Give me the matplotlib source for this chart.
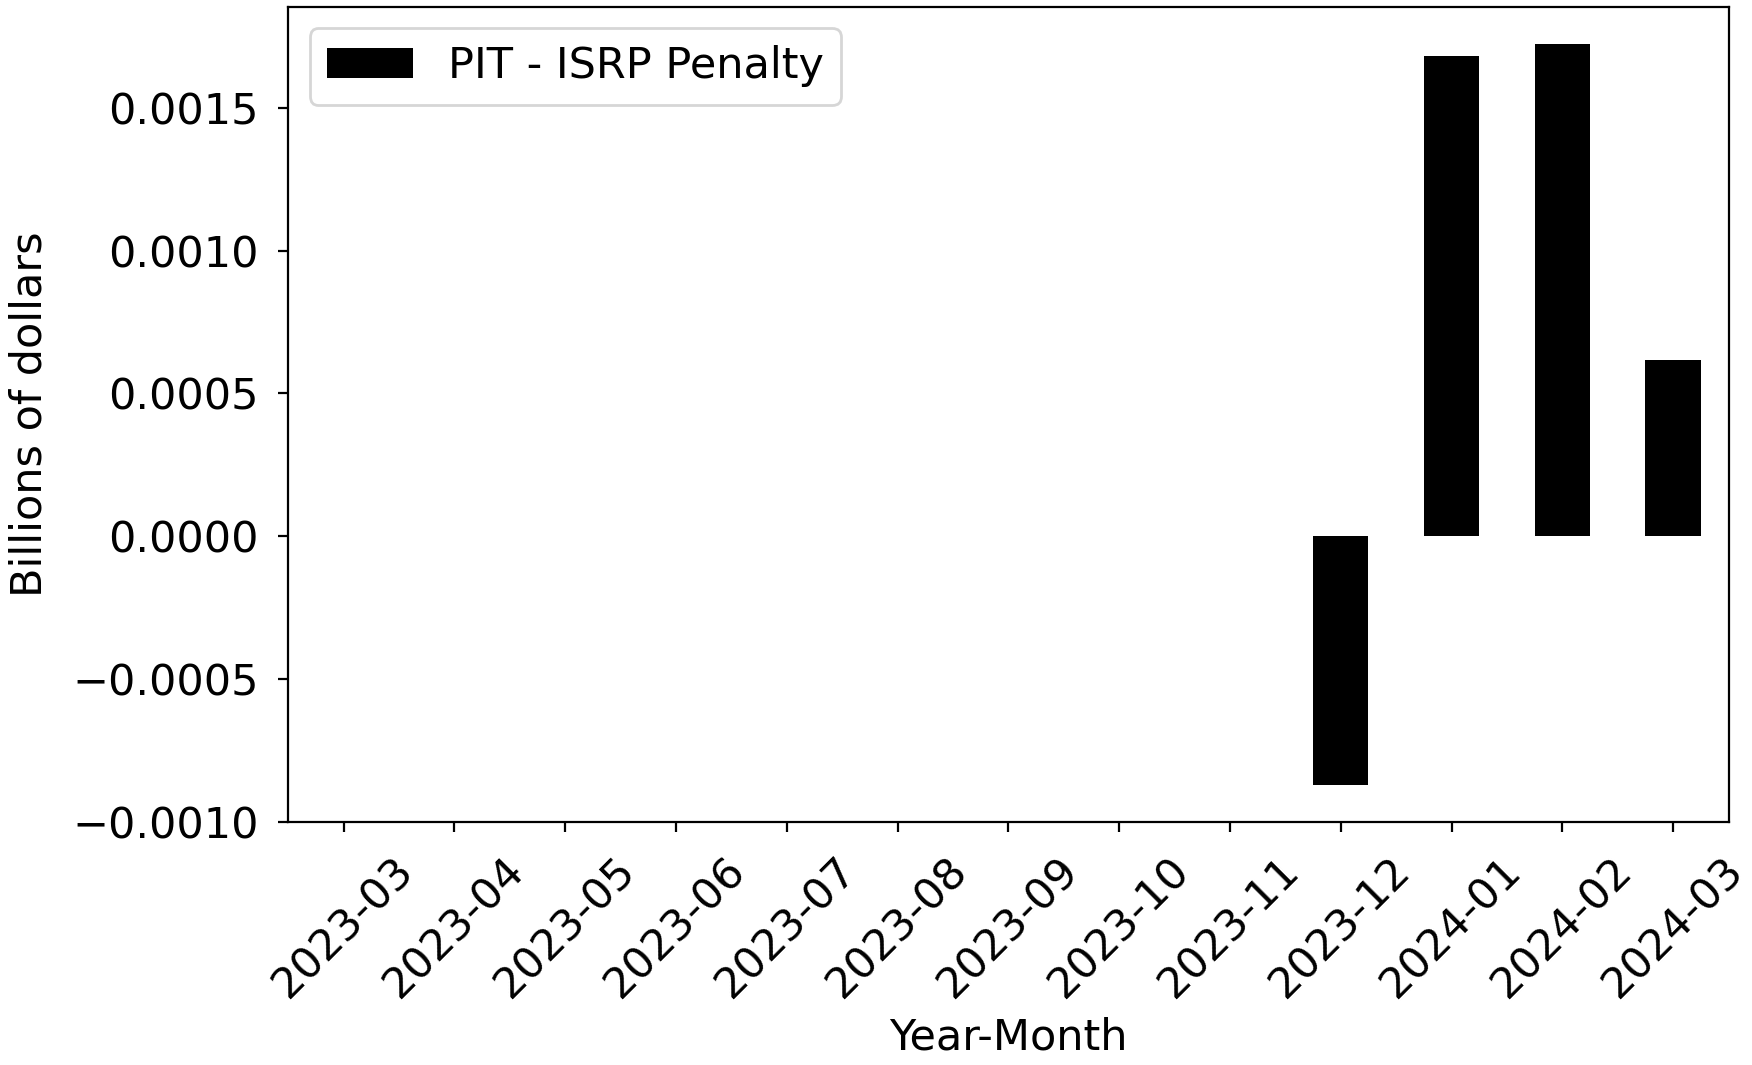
import matplotlib
matplotlib.use("Agg")
import matplotlib.pyplot as plt
import numpy as np

months = ["2023-03", "2023-04", "2023-05", "2023-06", "2023-07", "2023-08",
          "2023-09", "2023-10", "2023-11", "2023-12", "2024-01", "2024-02",
          "2024-03"]
penalty = [0, 0, 0, 0, 0, 0, 0, 0, 0, -0.000872, 0.001681, 0.001724, 0.000617]

plt.rcParams['font.family'] = ['DejaVu Sans']
plt.rcParams['font.size'] = 15.5

fig, ax = plt.subplots(figsize=(8.76, 5.325), dpi=200)
x = np.arange(len(months))
ax.bar(x, penalty, width=0.5, color="black", label="PIT - ISRP Penalty")
ax.set_xlim(-0.5, len(months) - 0.5)
ax.set_xticks(x)
ax.set_xticklabels(months, rotation=45, ha="center")
ax.tick_params(axis="y", pad=7)
ax.tick_params(axis="x", pad=6)
ax.set_xlabel("Year-Month", labelpad=4)
ax.set_ylabel("Billions of dollars", labelpad=8)
ax.legend(loc="upper left")
fig.subplots_adjust(left=0.1645, right=0.9866, top=0.9937, bottom=0.2277)
fig.savefig("out.png", dpi=200)
